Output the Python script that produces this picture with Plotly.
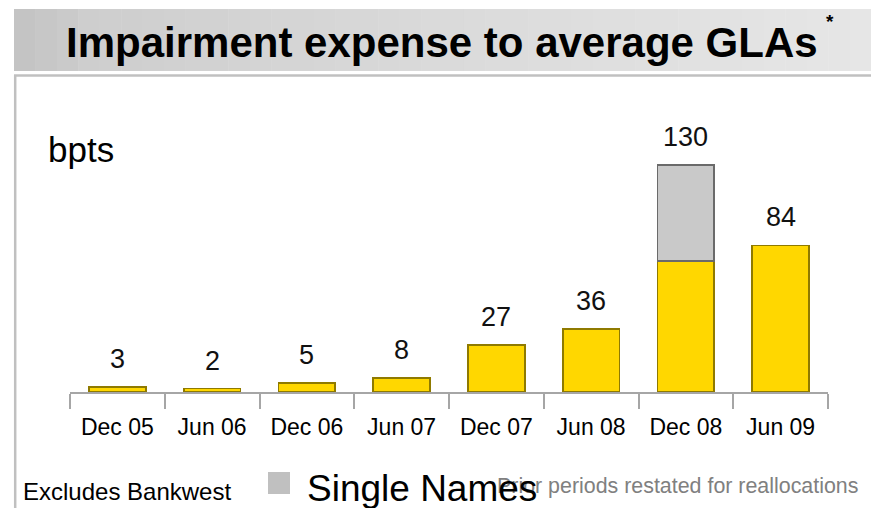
import plotly.graph_objects as go

# ---- data ----
categories = ["Dec 05", "Jun 06", "Dec 06", "Jun 07", "Dec 07", "Jun 08", "Dec 08", "Jun 09"]
other_bpts = [3, 2, 5, 8, 27, 36, 75, 84]
single_names_bpts = [None, None, None, None, None, None, 55, None]
total_bpts = [3, 2, 5, 8, 27, 36, 130, 84]

title_text = "Impairment expense to average GLAs"
unit_text = "bpts"
footnote_left = "Excludes Bankwest"
legend_text = "Single Names"
footnote_right = "Prior periods restated for reallocations"

# ---- geometry ----
W, H = 871, 508
ML, MR, MT, MB = 70, 43, 130, 116
PW = W - ML - MR
PH = H - MT - MB
YMAX = 150.2
FONT = "Liberation Sans, Arial, sans-serif"


def px(x):
    return (x - ML) / PW


def py(y):
    return (H - MB - y) / PH


fig = go.Figure()
fig.add_bar(
    x=categories, y=other_bpts, name="Other", width=0.6,
    marker=dict(color="#FFD700", line=dict(color="#8F7A00", width=1.8)),
    showlegend=False, hoverinfo="x+y",
)
fig.add_bar(
    x=categories, y=single_names_bpts, name=legend_text, width=0.6,
    marker=dict(color="#C9C9C9", line=dict(color="#6A6A6A", width=1.8)),
    showlegend=False, hoverinfo="x+y",
)

annotations = []
for c, t in zip(categories, total_bpts):
    annotations.append(dict(
        x=c, y=t, xref="x", yref="y", text=str(t), showarrow=False,
        yanchor="middle", yshift=28, font=dict(family=FONT, size=27, color="#111111"),
    ))

# title
annotations.append(dict(
    x=px(442), y=py(42), xref="paper", yref="paper", text="<b>" + title_text + "</b>",
    showarrow=False, xanchor="center", yanchor="middle",
    font=dict(family=FONT, size=42, color="#000000"),
))
annotations.append(dict(
    x=px(830), y=py(21), xref="paper", yref="paper", text="<b>*</b>",
    showarrow=False, xanchor="center", yanchor="middle",
    font=dict(family=FONT, size=19, color="#000000"),
))
annotations.append(dict(
    x=px(46), y=py(149), xref="paper", yref="paper", text=unit_text,
    showarrow=False, xanchor="left", yanchor="middle",
    font=dict(family=FONT, size=35, color="#000000"),
))
annotations.append(dict(
    x=px(21), y=py(491), xref="paper", yref="paper", text=footnote_left,
    showarrow=False, xanchor="left", yanchor="middle",
    font=dict(family=FONT, size=24, color="#000000"),
))
annotations.append(dict(
    x=px(495), y=py(486), xref="paper", yref="paper", text=footnote_right,
    showarrow=False, xanchor="left", yanchor="middle",
    font=dict(family=FONT, size=21.4, color="#808080"),
))
annotations.append(dict(
    x=px(305), y=py(488), xref="paper", yref="paper", text=legend_text,
    showarrow=False, xanchor="left", yanchor="middle",
    font=dict(family=FONT, size=37, color="#000000"),
))

shapes = []
# banner gradient strips
n = 40
x0, x1 = 14, 871
stops = [(0.0, (196, 196, 196)), (0.08, (206, 206, 206)), (0.5, (218, 218, 218)), (1.0, (230, 230, 230))]


def col(t):
    for (ta, ca), (tb, cb) in zip(stops[:-1], stops[1:]):
        if ta <= t <= tb:
            f = (t - ta) / (tb - ta)
            c = [round(ca[i] + (cb[i] - ca[i]) * f) for i in range(3)]
            return "rgb(%d,%d,%d)" % tuple(c)
    return "rgb(230,230,230)"


for i in range(n):
    a = x0 + (x1 - x0) * i / n
    b = x0 + (x1 - x0) * (i + 1) / n + 0.5
    shapes.append(dict(type="rect", xref="paper", yref="paper",
                       x0=px(a), x1=px(b), y0=py(71), y1=py(9),
                       fillcolor=col(i / (n - 1)), line=dict(width=0), layer="below"))
# panel top line and left line
shapes.append(dict(type="line", xref="paper", yref="paper", x0=px(14), x1=px(871),
                   y0=py(75.5), y1=py(75.5), line=dict(color="#C0C0C0", width=2.5)))
shapes.append(dict(type="line", xref="paper", yref="paper", x0=px(15.2), x1=px(15.2),
                   y0=py(75), y1=py(508), line=dict(color="#C0C0C0", width=2.5)))
# legend key square
shapes.append(dict(type="rect", xref="paper", yref="paper", x0=px(268), x1=px(290),
                   y0=py(494), y1=py(472), fillcolor="#C0C0C0", line=dict(width=0)))

fig.update_layout(
    width=W, height=H,
    margin=dict(l=ML, r=MR, t=MT, b=MB, autoexpand=False),
    paper_bgcolor="white", plot_bgcolor="white",
    barmode="stack",
    showlegend=False,
    annotations=annotations,
    shapes=shapes,
    xaxis=dict(
        type="category", range=[-0.5, 7.5], showline=True, linecolor="#A6A6A6", linewidth=1.5,
        ticks="outside", tickson="boundaries", ticklen=15, tickcolor="#A6A6A6", tickwidth=1.5,
        ticklabelstandoff=14,
        tickfont=dict(family=FONT, size=23, color="#000000"), showgrid=False, zeroline=False,
        fixedrange=True,
    ),
    yaxis=dict(range=[0, YMAX], visible=False, showgrid=False, zeroline=False, fixedrange=True),
)

fig.write_html(
    "out.html",
    config={"displayModeBar": False},
    post_script="document.body.style.margin='0';document.body.style.padding='0';",
)
